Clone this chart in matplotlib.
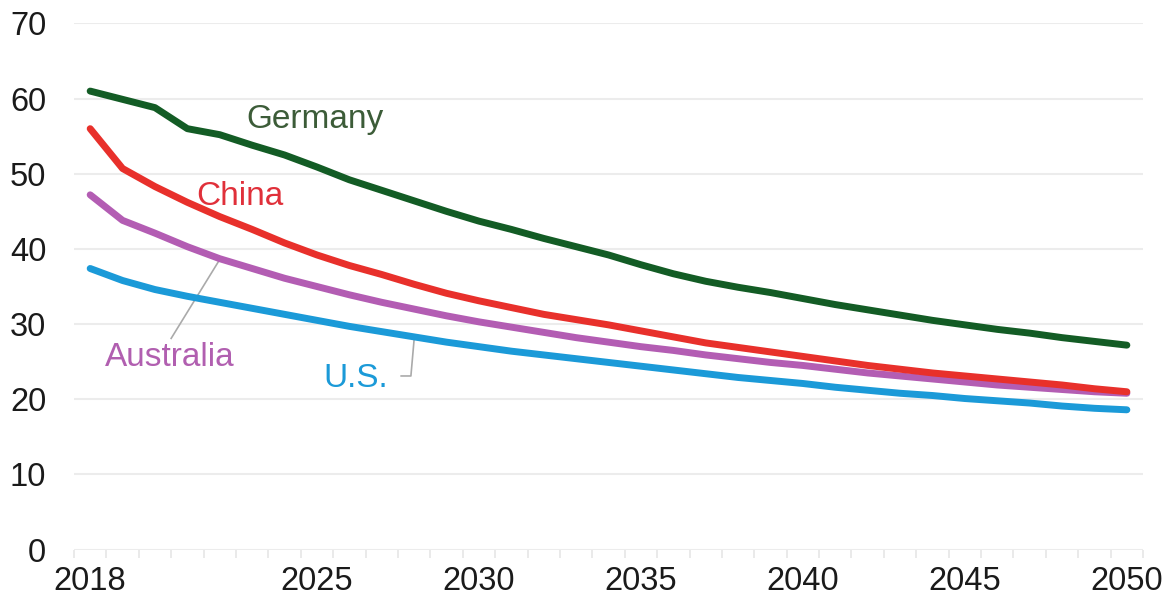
import matplotlib
matplotlib.use("Agg")
import matplotlib.pyplot as plt
import numpy as np

plt.rcParams['font.family'] = ['Liberation Sans', 'DejaVu Sans']

years = list(range(2018, 2051))
germany = [61.0, 59.9, 58.8, 56.0, 55.2, 53.8, 52.5, 50.9, 49.2, 47.8, 46.4, 45.0,
           43.7, 42.6, 41.4, 40.3, 39.2, 37.9, 36.7, 35.7, 34.9, 34.2, 33.4, 32.6,
           31.9, 31.2, 30.5, 29.9, 29.3, 28.8, 28.2, 27.7, 27.2]
china = [56.0, 50.7, 48.3, 46.2, 44.3, 42.6, 40.8, 39.2, 37.8, 36.6, 35.3, 34.1,
         33.1, 32.2, 31.3, 30.6, 29.9, 29.1, 28.3, 27.5, 26.9, 26.3, 25.7, 25.1,
         24.5, 24.0, 23.5, 23.1, 22.7, 22.3, 21.9, 21.4, 21.0]
australia = [47.2, 43.8, 42.1, 40.3, 38.7, 37.4, 36.1, 35.0, 33.9, 32.9, 32.0, 31.1,
             30.3, 29.6, 28.9, 28.2, 27.6, 27.0, 26.5, 25.9, 25.4, 24.9, 24.5, 24.0,
             23.5, 23.1, 22.7, 22.3, 21.9, 21.6, 21.3, 21.0, 20.8]
us = [37.4, 35.8, 34.6, 33.7, 32.9, 32.1, 31.3, 30.5, 29.7, 29.0, 28.3, 27.6,
      27.0, 26.4, 25.9, 25.4, 24.9, 24.4, 23.9, 23.4, 22.9, 22.5, 22.1, 21.6,
      21.2, 20.8, 20.5, 20.1, 19.8, 19.5, 19.1, 18.8, 18.6]

x_tick_labels = [2018, 2025, 2030, 2035, 2040, 2045, 2050]
y_ticks = [0, 10, 20, 30, 40, 50, 60, 70]

c_germany = '#135c25'
c_china = '#e8302b'
c_australia = '#b35db3'
c_us = '#1b9ad8'

fig = plt.figure(figsize=(11.76, 6.01), dpi=100)
ax = fig.add_axes([0.0629, 0.0855, 0.9091, 0.8755])

for v in y_ticks:
    ax.axhline(v, color='#ececec', lw=1.5, zorder=0)

lw = 5
ax.plot(years, us, color=c_us, lw=lw, solid_capstyle='round', zorder=3)
ax.plot(years, australia, color=c_australia, lw=lw, solid_capstyle='round', zorder=3)
ax.plot(years, china, color=c_china, lw=lw, solid_capstyle='round', zorder=3)
ax.plot(years, germany, color=c_germany, lw=lw, solid_capstyle='round', zorder=3)

ax.set_xlim(2017.5, 2050.5)
ax.set_ylim(0, 70)
for s in ax.spines.values():
    s.set_visible(False)

ax.set_yticks(y_ticks)
ax.set_yticklabels([str(v) for v in y_ticks])
ax.set_xticks(x_tick_labels)
ax.set_xticklabels([str(v) for v in x_tick_labels])
ax.set_xticks(np.arange(2017.5, 2051.0, 1.0), minor=True)
ax.tick_params(axis='y', length=0, pad=20, labelsize=23.5, labelcolor='#1a1a1a')
ax.tick_params(axis='x', which='major', length=0, pad=12, labelsize=23.5, labelcolor='#1a1a1a')
ax.tick_params(axis='x', which='minor', length=6, width=1.2, color='#e6e6e6')

fs = 24
ax.text(2024.95, 57.2, 'Germany', color='#3c5c38', fontsize=fs, ha='center', va='center')
ax.text(2022.63, 47.0, 'China', color='#e0303a', fontsize=fs, ha='center', va='center')
ax.text(2020.47, 25.5, 'Australia', color='#b15fb0', fontsize=fs, ha='center', va='center')
ax.text(2026.2, 22.8, 'U.S.', color='#1b9ad8', fontsize=fs, ha='center', va='center')

# leader lines
ax.plot([2020.5, 2022.0], [28.1, 38.6], color='#aaaaaa', lw=1.2, zorder=2)
ax.plot([2027.6, 2027.9, 2028.0], [23.1, 23.1, 28.0], color='#aaaaaa', lw=1.2, zorder=2)

fig.savefig('out.png', dpi=100, facecolor='white')
